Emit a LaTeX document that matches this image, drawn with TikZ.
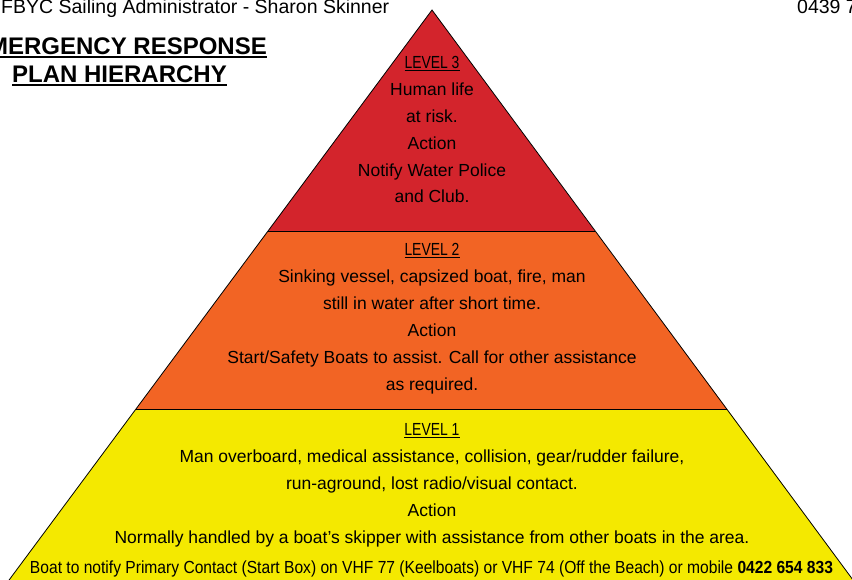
\documentclass[tikz,border=0pt]{standalone}
\usepackage{fontspec}
\setmainfont{Liberation Sans}
\usepackage{graphicx}
\definecolor{lvthree}{RGB}{211,36,44}
\definecolor{lvtwo}{RGB}{242,100,36}
\definecolor{lvone}{RGB}{244,233,0}
\newcommand{\ulbox}[3]{\setbox0\hbox{#3}\leavevmode\rlap{\rule[-#1]{\wd0}{#2}}\box0}
\newcommand{\lvl}[1]{\ulbox{2.4pt}{1.1pt}{\resizebox{55pt}{\height}{LEVEL #1}}}
\begin{document}
\begin{tikzpicture}[x=1pt,y=-1pt,
  outline/.style={draw=black,line width=0.8pt,line join=miter},
  body/.style={inner sep=0pt,align=center,anchor=base,font=\fontsize{17.5}{26.9}\selectfont},
  header/.style={inner sep=0pt,anchor=base west,font=\fontsize{19.5}{22}\selectfont},
  title/.style={inner sep=0pt,anchor=base,font=\fontsize{24}{26}\selectfont\bfseries}]
\useasboundingbox (0,0) rectangle (852,580);
\clip (0,0) rectangle (852,580);
\coordinate (apex) at (432,10);
\coordinate (l3) at (268,231);
\coordinate (r3) at (595,231);
\coordinate (l2) at (136,409);
\coordinate (r2) at (727,409);
\coordinate (bl) at (7.6,582);
\coordinate (br) at (854.5,582);
\fill[lvthree] (apex) -- (r3) -- (l3) -- cycle;
\fill[lvtwo] (l3) -- (r3) -- (r2) -- (l2) -- cycle;
\fill[lvone] (l2) -- (r2) -- (br) -- (bl) -- cycle;
\draw[outline] (bl) -- (apex) -- (br);
\draw[outline] (l3) -- (r3);
\draw[outline] (l2) -- (r2);
\node[header] (hdr) at (1,14) {FBYC Sailing Administrator - Sharon Skinner};
\node[header] (phone) at (797,14) {0439 7};
\node[title] (t1) at (119.5,55) {\ulbox{3pt}{2pt}{EMERGENCY RESPONSE}};
\node[title] (t2) at (119.5,83) {\ulbox{3pt}{2pt}{PLAN HIERARCHY}};
\node[body] (lv3) at (432,203) {\lvl{3}\\Human life\\at risk.\\Action\\Notify Water Police\\and Club.};
\node[body] (lv2) at (432,390) {\lvl{2}\\Sinking vessel, capsized boat, fire, man\\still in water after short time.\\Action\\Start/Safety Boats to assist. Call for other assistance\\as required.};
\node[body] (lv1) at (432,543) {\lvl{1}\\Man overboard, medical assistance, collision, gear/rudder failure,\\run-aground, lost radio/visual contact.\\Action\\Normally handled by a boat’s skipper with assistance from other boats in the area.};
\node[body] (contact) at (431.5,573) {\resizebox{803pt}{\height}{Boat to notify Primary Contact (Start Box) on VHF 77 (Keelboats) or VHF 74 (Off the Beach) or mobile \textbf{0422 654 833}}};
\end{tikzpicture}
\end{document}
